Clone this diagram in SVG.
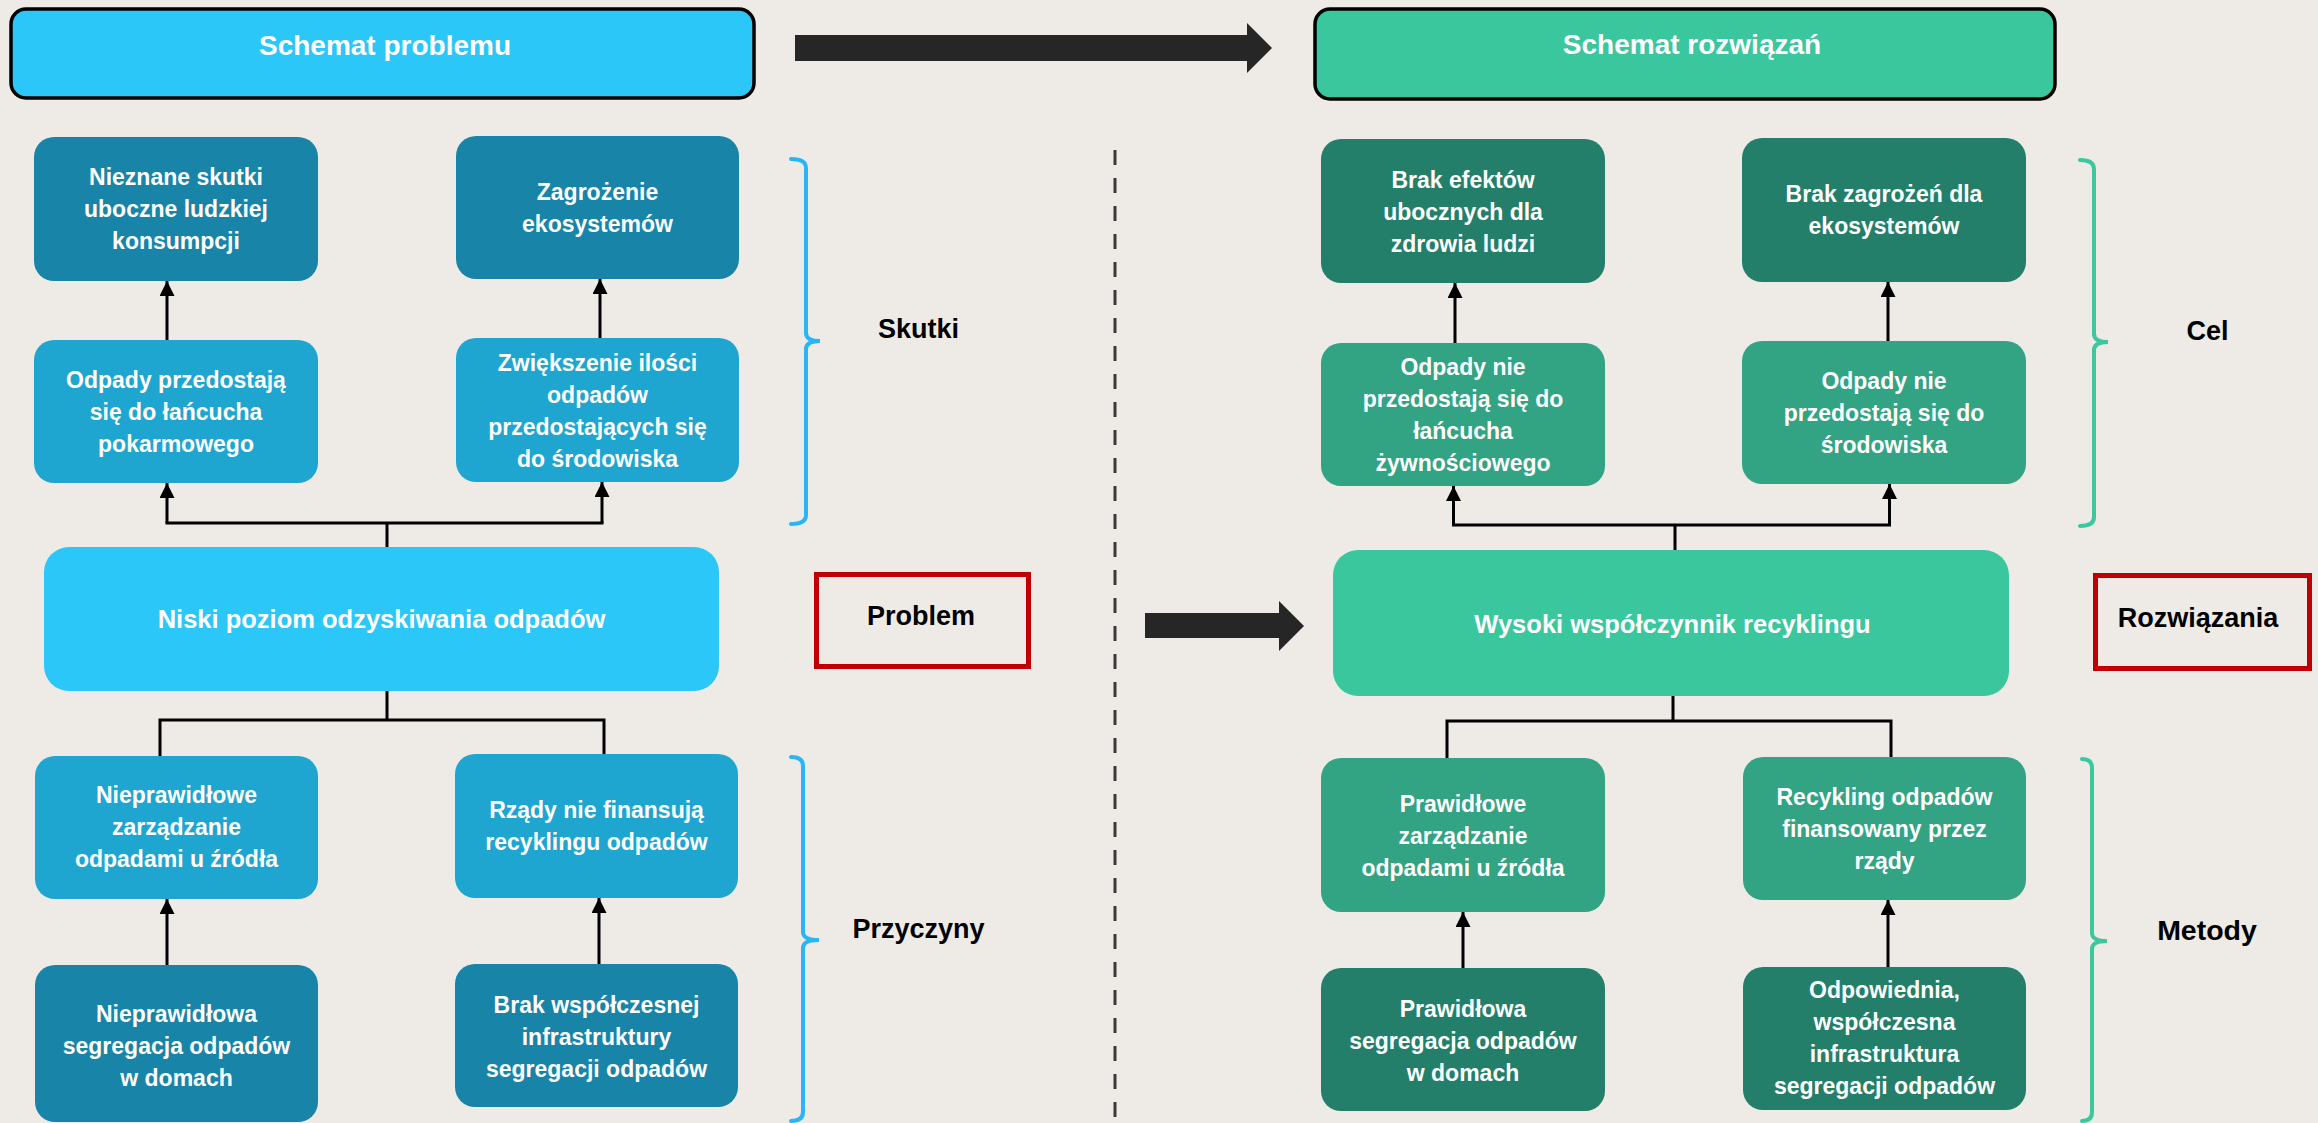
<svg xmlns="http://www.w3.org/2000/svg" width="2318" height="1123" viewBox="0 0 2318 1123">
<defs>
<style>
.bg{fill:#EEEBE7}
.hdr{stroke:#000;stroke-width:3.5}
.lb{fill:#2BC7F8}.db{fill:#1784A8}.mb{fill:#1FA6D0}
.lg{fill:#3BC79E}.dg{fill:#247F6A}.mg{fill:#32A383}
.t{font-family:"Liberation Sans",Arial,sans-serif;font-weight:bold;fill:#fff;text-anchor:middle;font-size:23px}
.tb{font-size:25.5px}
.th{font-size:28px}
.lbl{font-family:"Liberation Sans",Arial,sans-serif;font-weight:bold;fill:#000;text-anchor:middle;font-size:27px}
.c{stroke:#000;stroke-width:3;fill:none}
.ca{stroke:#000;stroke-width:3;fill:none;marker-end:url(#ah)}
.br{fill:none;stroke-width:4;stroke-linecap:round}
.red{fill:none;stroke:#C00000;stroke-width:5}
.blk{fill:#262626}
</style>
<marker id="ah" viewBox="0 0 10 10" refX="10" refY="5" markerWidth="15" markerHeight="15" markerUnits="userSpaceOnUse" orient="auto">
<path d="M0,0 L10,5 L0,10 z" fill="#000"/>
</marker>
</defs>
<rect class="bg" x="0" y="0" width="2318" height="1123"/>

<!-- divider -->
<line x1="1115" y1="150" x2="1115" y2="1123" stroke="#3a3a3a" stroke-width="3" stroke-dasharray="15 13"/>

<!-- block arrows -->
<path class="blk" d="M795,35 L1247,35 L1247,23 L1272,48 L1247,73 L1247,61 L795,61 z"/>
<path class="blk" d="M1145,613 L1279,613 L1279,601 L1304,626 L1279,651 L1279,638 L1145,638 z"/>

<!-- brackets -->
<path class="br" stroke="#29B6F6" d="M791,159 Q806,159 806,168 L806,333 Q806,341 820,341 Q806,341 806,349 L806,515 Q806,524 791,524"/>
<path class="br" stroke="#29B6F6" d="M791,757 Q803,757 803,766 L803,932 Q803,940 819,940 Q803,940 803,948 L803,1112 Q803,1121 791,1121"/>
<path class="br" stroke="#3CC79E" d="M2080,160 Q2094,160 2094,169 L2094,334 Q2094,342 2108,342 Q2094,342 2094,350 L2094,517 Q2094,526 2080,526"/>
<path class="br" stroke="#3CC79E" d="M2082,759 Q2092,759 2092,768 L2092,933 Q2092,941 2107,941 Q2092,941 2092,949 L2092,1112 Q2092,1121 2082,1121"/>

<!-- connectors -->
<g id="connectors">
<line class="ca" x1="167" y1="340" x2="167" y2="281"/>
<line class="ca" x1="600" y1="338" x2="600" y2="279"/>
<polyline class="c" points="387,547 387,523"/>
<line class="c" x1="165.5" y1="523" x2="603.5" y2="523"/>
<line class="ca" x1="167" y1="523" x2="167" y2="483"/>
<line class="ca" x1="602" y1="523" x2="602" y2="482"/>
<polyline class="c" points="387,691 387,720"/>
<polyline class="c" points="160,756 160,720 604,720 604,754"/>
<line class="ca" x1="167" y1="965" x2="167" y2="899"/>
<line class="ca" x1="599" y1="964" x2="599" y2="898"/>

<line class="ca" x1="1455" y1="343" x2="1455" y2="283"/>
<line class="ca" x1="1888" y1="341" x2="1888" y2="282"/>
<polyline class="c" points="1675,550 1675,525"/>
<line class="c" x1="1452" y1="525" x2="1891" y2="525"/>
<line class="ca" x1="1453.5" y1="525" x2="1453.5" y2="486"/>
<line class="ca" x1="1889.5" y1="525" x2="1889.5" y2="484"/>
<polyline class="c" points="1673,696 1673,721"/>
<polyline class="c" points="1447,758 1447,721 1891,721 1891,757"/>
<line class="ca" x1="1463" y1="968" x2="1463" y2="912"/>
<line class="ca" x1="1888" y1="967" x2="1888" y2="900"/>
</g>

<!-- headers -->
<g id="hdr-problem">
<rect class="hdr lb" x="11" y="9" width="743" height="89" rx="15"/>
<text class="t th" x="385" y="55">Schemat problemu</text>
</g>
<g id="hdr-solution">
<rect class="hdr lg" x="1315" y="9" width="740" height="90" rx="15"/>
<text class="t th" x="1692" y="54">Schemat rozwiązań</text>
</g>

<!-- problem side -->
<g id="p-effect1">
<rect class="db" x="34" y="137" width="284" height="144" rx="20"/>
<text class="t" x="176" y="184.5">Nieznane skutki<tspan x="176" dy="32">uboczne ludzkiej</tspan><tspan x="176" dy="32">konsumpcji</tspan></text>
</g>
<g id="p-effect2">
<rect class="db" x="456" y="136" width="283" height="143" rx="20"/>
<text class="t" x="597.5" y="200">Zagrożenie<tspan x="597.5" dy="32">ekosystemów</tspan></text>
</g>
<g id="p-mid1">
<rect class="mb" x="34" y="340" width="284" height="143" rx="20"/>
<text class="t" x="176" y="388.3">Odpady przedostają<tspan x="176" dy="32">się do łańcucha</tspan><tspan x="176" dy="32">pokarmowego</tspan></text>
</g>
<g id="p-mid2">
<rect class="mb" x="456" y="338" width="283" height="144" rx="20"/>
<text class="t" x="597.5" y="370.7">Zwiększenie ilości<tspan x="597.5" dy="32">odpadów</tspan><tspan x="597.5" dy="32">przedostających się</tspan><tspan x="597.5" dy="32">do środowiska</tspan></text>
</g>
<g id="p-core">
<rect class="lb" x="44" y="547" width="675" height="144" rx="25"/>
<text class="t tb" x="381.5" y="628.3">Niski poziom odzyskiwania odpadów</text>
</g>
<g id="p-cause1">
<rect class="mb" x="35" y="756" width="283" height="143" rx="20"/>
<text class="t" x="176.5" y="803.3">Nieprawidłowe<tspan x="176.5" dy="32">zarządzanie</tspan><tspan x="176.5" dy="32">odpadami u źródła</tspan></text>
</g>
<g id="p-cause2">
<rect class="mb" x="455" y="754" width="283" height="144" rx="20"/>
<text class="t" x="596.5" y="818.3">Rządy nie finansują<tspan x="596.5" dy="32">recyklingu odpadów</tspan></text>
</g>
<g id="p-root1">
<rect class="db" x="35" y="965" width="283" height="157" rx="20"/>
<text class="t" x="176.5" y="1021.7">Nieprawidłowa<tspan x="176.5" dy="32">segregacja odpadów</tspan><tspan x="176.5" dy="32">w domach</tspan></text>
</g>
<g id="p-root2">
<rect class="db" x="455" y="964" width="283" height="143" rx="20"/>
<text class="t" x="596.5" y="1013.3">Brak współczesnej<tspan x="596.5" dy="32">infrastruktury</tspan><tspan x="596.5" dy="32">segregacji odpadów</tspan></text>
</g>

<!-- side labels -->
<g id="lbl-skutki"><text class="lbl" x="918.5" y="338">Skutki</text></g>
<g id="lbl-problem">
<rect class="red" x="816.5" y="574.5" width="212" height="92"/>
<text class="lbl" x="921" y="625">Problem</text>
</g>
<g id="lbl-przyczyny"><text class="lbl" x="918.5" y="938">Przyczyny</text></g>
<g id="lbl-cel"><text class="lbl" x="2207.5" y="340">Cel</text></g>
<g id="lbl-rozwiazania">
<rect class="red" x="2095.5" y="575.5" width="214" height="93"/>
<text class="lbl" x="2198" y="627">Rozwiązania</text>
</g>
<g id="lbl-metody"><text class="lbl" x="2207" y="940" style="font-size:28.5px">Metody</text></g>

<!-- solution side -->
<g id="s-goal1">
<rect class="dg" x="1321" y="139" width="284" height="144" rx="20"/>
<text class="t" x="1463" y="188.3">Brak efektów<tspan x="1463" dy="32">ubocznych dla</tspan><tspan x="1463" dy="32">zdrowia ludzi</tspan></text>
</g>
<g id="s-goal2">
<rect class="dg" x="1742" y="138" width="284" height="144" rx="20"/>
<text class="t" x="1884" y="201.7">Brak zagrożeń dla<tspan x="1884" dy="32">ekosystemów</tspan></text>
</g>
<g id="s-mid1">
<rect class="mg" x="1321" y="343" width="284" height="143" rx="20"/>
<text class="t" x="1463" y="375">Odpady nie<tspan x="1463" dy="32">przedostają się do</tspan><tspan x="1463" dy="32">łańcucha</tspan><tspan x="1463" dy="32">żywnościowego</tspan></text>
</g>
<g id="s-mid2">
<rect class="mg" x="1742" y="341" width="284" height="143" rx="20"/>
<text class="t" x="1884" y="389.3">Odpady nie<tspan x="1884" dy="32">przedostają się do</tspan><tspan x="1884" dy="32">środowiska</tspan></text>
</g>
<g id="s-core">
<rect class="lg" x="1333" y="550" width="676" height="146" rx="25"/>
<text class="t tb" x="1672.5" y="633">Wysoki współczynnik recyklingu</text>
</g>
<g id="s-method1">
<rect class="mg" x="1321" y="758" width="284" height="154" rx="20"/>
<text class="t" x="1463" y="811.7">Prawidłowe<tspan x="1463" dy="32">zarządzanie</tspan><tspan x="1463" dy="32">odpadami u źródła</tspan></text>
</g>
<g id="s-method2">
<rect class="mg" x="1743" y="757" width="283" height="143" rx="20"/>
<text class="t" x="1884.5" y="805">Recykling odpadów<tspan x="1884.5" dy="32">finansowany przez</tspan><tspan x="1884.5" dy="32">rządy</tspan></text>
</g>
<g id="s-root1">
<rect class="dg" x="1321" y="968" width="284" height="143" rx="20"/>
<text class="t" x="1463" y="1016.7">Prawidłowa<tspan x="1463" dy="32">segregacja odpadów</tspan><tspan x="1463" dy="32">w domach</tspan></text>
</g>
<g id="s-root2">
<rect class="dg" x="1743" y="967" width="283" height="143" rx="20"/>
<text class="t" x="1884.5" y="998.3">Odpowiednia,<tspan x="1884.5" dy="32">współczesna</tspan><tspan x="1884.5" dy="32">infrastruktura</tspan><tspan x="1884.5" dy="32">segregacji odpadów</tspan></text>
</g>
</svg>
